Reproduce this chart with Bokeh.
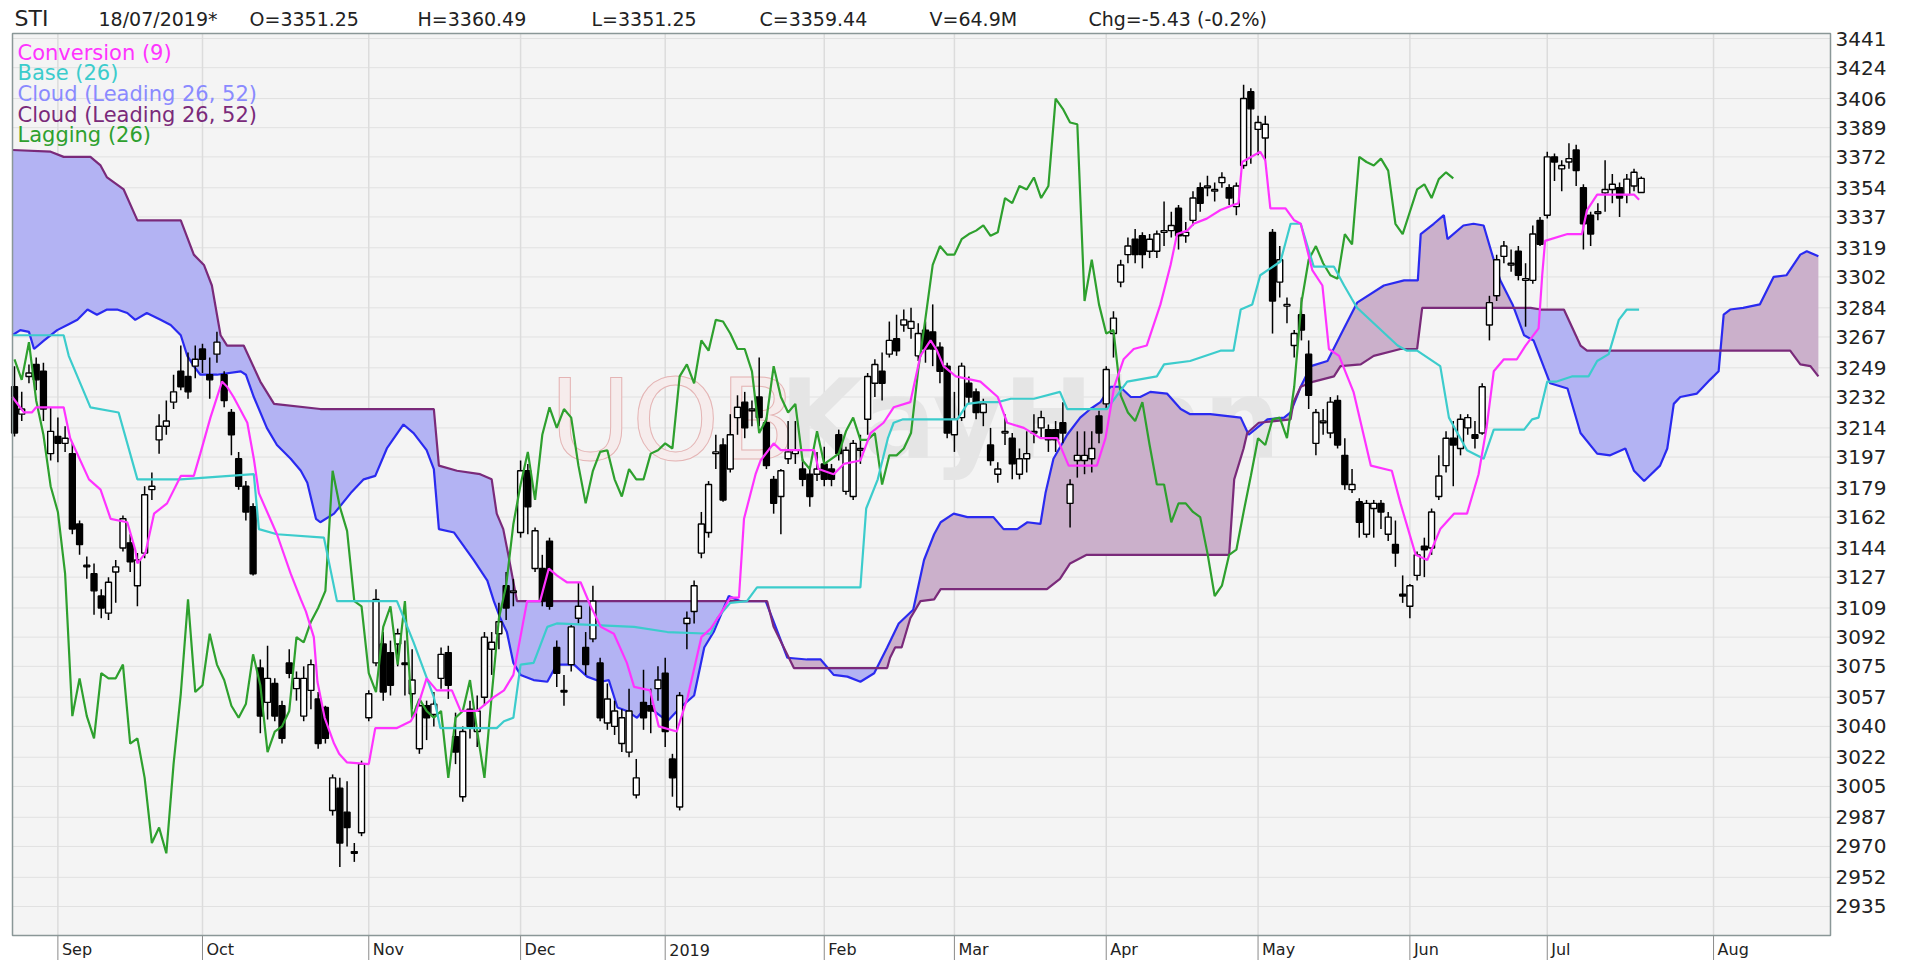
import numpy as np
from bokeh.plotting import figure
from bokeh.models import Range1d, FixedTicker, Label, ColumnDataSource, Text
from bokeh.core.properties import value
from bokeh.embed import file_html
from bokeh.resources import INLINE

# ---------------- data ----------------
# trading-day index 0 = 24 Aug 2018 ... 225 = 18 Jul 2019
month_idx = [6, 26, 49, 70, 90, 112, 130, 151, 172, 193, 212, 235]
month_labels = ["Sep", "Oct", "Nov", "Dec", "2019", "Feb", "Mar", "Apr", "May", "Jun", "Jul", "Aug"]

y_ticks = [2935, 2952, 2970, 2987, 3005, 3022, 3040, 3057, 3075, 3092, 3109, 3127, 3144, 3162,
           3179, 3197, 3214, 3232, 3249, 3267, 3284, 3302, 3319, 3337, 3354, 3372, 3389, 3406,
           3424, 3441]

ohlc = [
    (3238, 3250, 3209, 3211), (3222, 3235, 3218, 3225), (3244, 3251, 3240, 3246), (3251, 3255, 3236, 3242),
    (3247, 3252, 3218, 3225), (3199, 3226, 3195, 3212), (3209, 3220, 3194, 3205), (3205, 3215, 3200, 3208),
    (3199, 3205, 3152, 3155), (3158, 3160, 3140, 3146), (3134, 3139, 3126, 3133), (3129, 3135, 3105, 3119),
    (3116, 3120, 3103, 3109), (3106, 3127, 3102, 3124), (3130, 3137, 3112, 3133), (3144, 3163, 3142, 3161),
    (3147, 3152, 3130, 3136), (3122, 3141, 3110, 3137), (3141, 3180, 3138, 3175), (3178, 3188, 3172, 3180),
    (3207, 3222, 3199, 3215), (3215, 3230, 3210, 3218), (3229, 3245, 3225, 3235), (3247, 3262, 3236, 3238),
    (3244, 3258, 3231, 3235), (3250, 3262, 3243, 3254), (3260, 3263, 3246, 3254), (3245, 3255, 3231, 3242),
    (3257, 3270, 3252, 3264), (3245, 3247, 3226, 3230), (3223, 3225, 3198, 3210), (3196, 3200, 3178, 3180),
    (3180, 3183, 3160, 3165), (3168, 3170, 3128, 3129), (3074, 3079, 3036, 3046), (3054, 3087, 3044, 3068),
    (3065, 3068, 3043, 3046), (3052, 3055, 3030, 3033), (3077, 3085, 3068, 3071), (3062, 3072, 3055, 3068),
    (3046, 3075, 3043, 3068), (3061, 3079, 3050, 3076), (3056, 3060, 3027, 3030), (3051, 3052, 3030, 3033),
    (2991, 3012, 2988, 3010), (3004, 3010, 2958, 2972), (2990, 3008, 2970, 2981), (2967, 2972, 2961, 2966),
    (2978, 3020, 2976, 3018), (3045, 3061, 3043, 3059), (3077, 3120, 3075, 3114), (3088, 3095, 3055, 3060),
    (3083, 3090, 3058, 3064), (3088, 3097, 3075, 3094), (3077, 3090, 3058, 3076), (3059, 3085, 3050, 3067),
    (3027, 3055, 3024, 3052), (3052, 3055, 3032, 3045), (3047, 3060, 3040, 3053), (3068, 3086, 3062, 3082),
    (3083, 3087, 3056, 3064), (3034, 3048, 3018, 3025), (2999, 3040, 2996, 3037), (3050, 3055, 3033, 3040),
    (3037, 3058, 3028, 3049), (3057, 3095, 3052, 3092), (3085, 3095, 3070, 3089), (3094, 3112, 3085, 3101),
    (3122, 3130, 3102, 3109), (3118, 3126, 3110, 3119), (3153, 3195, 3150, 3189), (3189, 3193, 3152, 3168),
    (3132, 3156, 3130, 3154), (3132, 3140, 3110, 3113), (3148, 3150, 3108, 3110), (3086, 3090, 3063, 3071),
    (3061, 3070, 3052, 3060), (3076, 3100, 3072, 3098), (3103, 3124, 3100, 3110), (3086, 3095, 3070, 3076),
    (3091, 3122, 3089, 3113), (3077, 3080, 3043, 3045), (3042, 3065, 3038, 3056), (3040, 3055, 3035, 3049),
    (3030, 3050, 3025, 3045), (3025, 3062, 3022, 3049), (3000, 3021, 2998, 3010), (3054, 3073, 3038, 3045),
    (3052, 3062, 3036, 3049), (3062, 3075, 3055, 3067), (3071, 3080, 3028, 3037), (3021, 3024, 2999, 3010),
    (2993, 3060, 2991, 3058), (3100, 3107, 3085, 3103), (3107, 3125, 3100, 3122), (3141, 3165, 3138, 3158),
    (3153, 3183, 3150, 3181), (3199, 3210, 3190, 3200), (3204, 3208, 3171, 3172), (3190, 3222, 3188, 3210),
    (3220, 3233, 3210, 3226), (3229, 3235, 3208, 3214), (3224, 3230, 3215, 3225), (3232, 3255, 3215, 3220),
    (3217, 3220, 3190, 3192), (3184, 3186, 3164, 3170), (3174, 3190, 3152, 3189), (3196, 3218, 3193, 3200),
    (3199, 3218, 3193, 3201), (3190, 3196, 3180, 3184), (3187, 3190, 3168, 3174), (3187, 3200, 3183, 3190),
    (3193, 3203, 3180, 3184), (3190, 3193, 3180, 3184), (3210, 3213, 3195, 3199), (3177, 3203, 3175, 3201),
    (3174, 3207, 3172, 3205), (3201, 3210, 3193, 3202), (3219, 3246, 3210, 3244), (3240, 3254, 3232, 3251),
    (3247, 3258, 3230, 3240), (3257, 3276, 3255, 3265), (3266, 3280, 3256, 3259), (3274, 3283, 3270, 3277),
    (3272, 3284, 3266, 3276), (3256, 3275, 3253, 3269), (3271, 3276, 3252, 3260), (3270, 3286, 3250, 3260),
    (3261, 3264, 3240, 3247), (3250, 3252, 3208, 3211), (3210, 3235, 3200, 3219), (3220, 3252, 3218, 3250),
    (3240, 3244, 3228, 3232), (3235, 3237, 3219, 3223), (3223, 3231, 3215, 3228), (3204, 3214, 3192, 3195),
    (3187, 3194, 3182, 3190), (3211, 3222, 3204, 3212), (3208, 3211, 3184, 3193), (3187, 3202, 3184, 3196),
    (3196, 3212, 3188, 3199), (3211, 3222, 3205, 3212), (3214, 3224, 3208, 3220), (3213, 3216, 3200, 3207),
    (3213, 3218, 3200, 3207), (3217, 3229, 3205, 3211), (3170, 3184, 3156, 3181), (3195, 3212, 3185, 3198),
    (3195, 3212, 3187, 3198), (3196, 3212, 3188, 3202), (3221, 3224, 3205, 3211), (3228, 3250, 3225, 3248),
    (3269, 3282, 3255, 3278), (3299, 3312, 3296, 3309), (3315, 3325, 3310, 3320), (3324, 3330, 3310, 3315),
    (3326, 3328, 3307, 3315), (3317, 3327, 3313, 3324), (3317, 3329, 3313, 3327), (3328, 3346, 3320, 3329),
    (3329, 3340, 3325, 3332), (3342, 3344, 3318, 3326), (3326, 3334, 3322, 3328), (3335, 3352, 3332, 3348),
    (3354, 3357, 3340, 3345), (3354, 3361, 3349, 3355), (3352, 3357, 3346, 3353), (3357, 3363, 3354, 3360),
    (3354, 3356, 3344, 3348), (3343, 3357, 3338, 3355), (3367, 3414, 3365, 3406), (3410, 3412, 3368, 3400),
    (3388, 3396, 3373, 3392), (3383, 3396, 3370, 3391), (3328, 3330, 3269, 3288), (3299, 3320, 3290, 3312),
    (3285, 3290, 3275, 3286), (3262, 3271, 3255, 3269), (3280, 3290, 3265, 3271), (3257, 3265, 3225, 3233),
    (3205, 3225, 3198, 3223), (3217, 3225, 3210, 3218), (3211, 3232, 3208, 3229), (3230, 3233, 3202, 3204),
    (3198, 3208, 3178, 3181), (3178, 3190, 3176, 3181), (3171, 3173, 3150, 3159), (3152, 3172, 3150, 3170),
    (3167, 3172, 3150, 3170), (3170, 3172, 3155, 3165), (3152, 3165, 3148, 3162), (3146, 3160, 3133, 3141),
    (3117, 3128, 3112, 3116), (3110, 3123, 3103, 3122), (3128, 3142, 3125, 3140), (3145, 3150, 3127, 3143),
    (3144, 3167, 3140, 3165), (3174, 3198, 3172, 3186), (3192, 3212, 3188, 3208), (3208, 3218, 3180, 3204),
    (3202, 3222, 3198, 3219), (3214, 3222, 3210, 3220), (3210, 3218, 3202, 3208), (3211, 3240, 3210, 3238),
    (3274, 3291, 3265, 3287), (3291, 3315, 3288, 3312), (3314, 3323, 3310, 3320), (3309, 3318, 3305, 3310),
    (3317, 3320, 3300, 3303), (3300, 3310, 3273, 3301), (3300, 3332, 3298, 3327), (3335, 3337, 3320, 3321),
    (3338, 3375, 3336, 3372), (3372, 3374, 3358, 3369), (3365, 3370, 3352, 3367), (3369, 3380, 3365, 3371),
    (3376, 3379, 3355, 3364), (3354, 3356, 3318, 3333), (3338, 3340, 3320, 3327), (3339, 3345, 3335, 3340),
    (3351, 3370, 3340, 3353), (3353, 3362, 3345, 3356), (3354, 3357, 3337, 3348), (3350, 3362, 3345, 3359),
    (3355, 3365, 3352, 3363), (3351.25, 3360.49, 3351.25, 3359.44),
]
opens = [r[0] for r in ohlc]
highs = [r[1] for r in ohlc]
lows = [r[2] for r in ohlc]
closes = [r[3] for r in ohlc]
bar_idx = list(range(len(ohlc)))
lag_shift = 26

conv_x = [-0.3, 1.3, 2.4, 3.0, 6.8, 7.7, 10.3, 11.9, 13.3, 15.6, 16.7, 17.0, 18.1, 19.3, 21.1, 23.0, 24.8, 25.7,
          27.1, 28.7, 29.4, 30.3, 32.2, 33.1, 33.8, 36.3, 38.2, 39.6, 40.3, 41.4, 41.9, 42.9, 44.2, 44.9, 46.0,
          49.0, 49.9, 52.9, 54.8, 55.5, 57.0, 58.4, 60.5, 61.7, 64.0, 66.3, 67.7, 69.0, 70.9, 72.7, 73.9, 75.0,
          76.4, 78.3, 79.7, 81.1, 82.9, 84.7, 85.7, 87.9, 89.1, 91.6, 93.1, 95.0, 96.3, 97.7, 99.0, 100.2,
          100.9, 102.5, 103.2, 105.0, 106.0, 110.6, 111.2, 113.3, 114.7, 117.0, 118.4, 120.2, 121.6, 123.9,
          125.3, 126.7, 127.6, 128.5, 130.2, 133.6, 136.0, 137.3, 139.6, 141.9, 144.2, 145.8, 149.7, 150.9,
          152.1, 153.4, 154.8, 156.6, 158.5, 159.9, 160.8, 162.2, 163.1, 164.9, 166.8, 168.6, 169.3, 169.8,
          172.3, 173.0, 173.7, 175.8, 177.0, 177.9, 179.5, 180.9, 181.8, 183.2, 185.2, 187.6, 190.5, 191.7,
          193.8, 195.4, 197.2, 199.1, 200.9, 202.5, 203.6, 204.6, 206.0, 207.8, 209.0, 210.8, 211.3, 211.7,
          214.8, 216.8, 217.5, 218.9, 224.0, 224.7]
conv_y = [3232, 3223, 3223, 3226, 3226, 3208, 3184, 3178, 3161, 3159, 3143, 3135, 3141, 3164, 3170, 3186, 3186,
          3199, 3220, 3241, 3238, 3232, 3217, 3196, 3176, 3152, 3129, 3114, 3107, 3092, 3066, 3045, 3030, 3024,
          3019, 3018, 3039, 3039, 3043, 3048, 3068, 3061, 3061, 3049, 3049, 3057, 3061, 3070, 3113, 3113, 3132,
          3128, 3124, 3124, 3110, 3098, 3094, 3077, 3063, 3061, 3040, 3037, 3057, 3092, 3097, 3106, 3115, 3115,
          3161, 3187, 3195, 3205, 3201, 3201, 3190, 3187, 3193, 3195, 3211, 3217, 3226, 3229, 3256, 3265, 3259,
          3250, 3244, 3241, 3232, 3217, 3214, 3208, 3208, 3192, 3192, 3208, 3238, 3254, 3260, 3262, 3286, 3309,
          3327, 3329, 3333, 3336, 3341, 3344, 3345, 3369, 3375, 3370, 3342, 3342, 3335, 3333, 3306, 3297, 3260,
          3256, 3235, 3192, 3189, 3170, 3140, 3137, 3155, 3164, 3164, 3187, 3214, 3247, 3254, 3254, 3262, 3272,
          3303, 3323, 3327, 3327, 3341, 3350, 3350, 3347]

base_x = [-0.3, 6.8, 7.5, 10.5, 14.4, 17.0, 23.0, 33.1, 33.8, 36.3, 42.8, 44.6, 52.9, 55.2, 58.0, 58.9, 66.7,
          67.7, 69.0, 70.0, 71.8, 73.7, 75.0, 85.7, 90.3, 96.3, 97.2, 99.0, 101.3, 102.7, 117.0, 117.8, 119.4,
          120.8, 121.6, 122.9, 130.4, 131.8, 133.6, 136.0, 137.8, 141.0, 144.6, 145.6, 151.1, 153.9, 158.0,
          159.0, 162.6, 166.8, 168.6, 169.6, 171.2, 172.3, 175.1, 176.5, 177.9, 179.7, 182.5, 183.9, 185.0,
          185.7, 191.3, 192.6, 194.0, 197.2, 198.4, 200.9, 203.2, 204.6, 208.8, 209.9, 210.8, 212.0, 213.3,
          215.4, 217.7, 218.9, 220.5, 221.9, 223.0, 224.7]
base_y = [3268, 3268, 3256, 3226, 3223, 3184, 3184, 3187, 3155, 3152, 3150, 3113, 3113, 3089, 3057, 3039, 3039,
          3043, 3045, 3076, 3077, 3098, 3100, 3098, 3095, 3094, 3103, 3112, 3113, 3121, 3121, 3167, 3184, 3208,
          3217, 3219, 3219, 3228, 3229, 3229, 3231, 3231, 3235, 3225, 3225, 3241, 3244, 3251, 3253, 3259, 3259,
          3283, 3286, 3303, 3311, 3333, 3333, 3308, 3308, 3297, 3289, 3284, 3262, 3259, 3259, 3250, 3220, 3201,
          3196, 3213, 3213, 3219, 3220, 3241, 3241, 3244, 3244, 3253, 3257, 3277, 3283, 3283]

spanA_x = [-0.3, 0.8, 2.0, 2.7, 4.1, 5.9, 7.3, 8.7, 10.1, 11.4, 12.8, 14.2, 15.6, 16.7, 18.3, 20.2, 21.6, 23.0,
           23.9, 24.8, 25.7, 28.0, 31.3, 32.0, 33.1, 34.9, 36.3, 38.2, 39.6, 40.5, 41.7, 42.3, 44.2, 46.5, 48.3,
           49.9, 51.5, 53.8, 55.2, 57.0, 58.0, 58.7, 60.8, 63.5, 65.4, 66.3, 67.2, 68.1, 69.0, 70.0, 71.8, 73.7,
           75.0, 77.4, 79.2, 81.1, 82.2, 83.4, 84.7, 86.1, 87.5, 90.3, 92.1, 94.0, 95.4, 96.7, 98.8, 100.4,
           103.9, 105.0, 106.9, 109.6, 111.5, 113.3, 115.2, 117.0, 118.9, 120.7, 122.3, 124.3, 125.8, 127.2,
           128.1, 129.9, 131.8, 135.4, 136.8, 138.7, 140.1, 141.9, 142.6, 143.7, 145.6, 147.4, 148.8, 150.2,
           151.6, 152.9, 154.4, 155.7, 157.1, 159.4, 161.3, 162.6, 165.4, 169.6, 170.7, 173.3, 175.6, 176.5,
           177.9, 179.3, 181.6, 183.4, 185.7, 189.4, 192.2, 194.1, 194.5, 196.3, 197.7, 198.2, 200.4, 201.8,
           203.2, 204.6, 205.5, 207.2, 208.8, 210.1, 212.4, 214.8, 216.6, 218.9, 220.7, 222.8, 224.0, 225.4,
           227.6, 228.6, 229.5, 230.4, 232.7, 234.5, 235.7, 236.4, 237.3, 239.1, 241.4, 243.3, 245.1, 247.0,
           247.9, 249.5]
spanA_y = [3268, 3271, 3270, 3260, 3265, 3271, 3274, 3277, 3283, 3280, 3283, 3283, 3281, 3277, 3281, 3277, 3274,
           3268, 3256, 3250, 3245, 3245, 3247, 3245, 3232, 3214, 3204, 3196, 3189, 3182, 3161, 3159, 3164, 3176,
           3184, 3186, 3202, 3216, 3211, 3201, 3190, 3155, 3153, 3137, 3125, 3113, 3103, 3095, 3077, 3070, 3067,
           3066, 3076, 3076, 3069, 3066, 3067, 3051, 3049, 3045, 3052, 3043, 3051, 3058, 3086, 3095, 3116, 3113,
           3113, 3101, 3080, 3079, 3079, 3070, 3069, 3066, 3071, 3086, 3100, 3108, 3137, 3152, 3159, 3164, 3162,
           3162, 3155, 3155, 3159, 3158, 3176, 3196, 3210, 3220, 3225, 3229, 3238, 3238, 3232, 3232, 3235, 3234,
           3225, 3222, 3222, 3220, 3210, 3219, 3220, 3223, 3238, 3250, 3253, 3268, 3287, 3297, 3300, 3300, 3327,
           3333, 3338, 3324, 3332, 3333, 3332, 3312, 3300, 3286, 3268, 3265, 3240, 3237, 3211, 3199, 3198, 3202,
           3189, 3183, 3192, 3202, 3228, 3232, 3234, 3242, 3247, 3280, 3283, 3284, 3286, 3302, 3303, 3315, 3317,
           3314]

spanB_x = [-0.3, 5.0, 6.8, 10.5, 11.9, 12.8, 15.1, 17.0, 23.0, 24.8, 26.2, 27.3, 28.5, 29.4, 31.7, 34.0, 35.9,
           42.3, 58.0, 58.7, 61.2, 64.4, 66.0, 66.7, 67.6, 68.3, 69.5, 104.1, 105.0, 107.8, 120.7, 121.1, 121.8,
           122.7, 123.9, 125.3, 127.2, 128.1, 142.8, 144.6, 146.0, 148.3, 168.0, 168.7, 170.0, 170.5, 172.1,
           176.5, 176.9, 177.9, 179.7, 182.5, 183.4, 186.2, 188.0, 191.7, 194.0, 194.7, 209.7, 211.1, 214.3,
           216.6, 217.5, 245.6, 247.0, 248.4, 249.5]
spanB_y = [3376, 3375, 3372, 3372, 3367, 3360, 3353, 3335, 3335, 3315, 3309, 3297, 3268, 3262, 3262, 3241, 3228,
           3225, 3225, 3192, 3189, 3187, 3184, 3164, 3155, 3140, 3113, 3113, 3098, 3074, 3074, 3080, 3086, 3086,
           3103, 3113, 3114, 3120, 3120, 3126, 3135, 3140, 3140, 3184, 3202, 3211, 3217, 3219, 3229, 3238, 3241,
           3244, 3250, 3251, 3256, 3260, 3260, 3284, 3284, 3283, 3283, 3262, 3259, 3259, 3251, 3250, 3244]

header_texts = ["STI", "18/07/2019*", "O=3351.25", "H=3360.49", "L=3351.25", "C=3359.44", "V=64.9M",
                "Chg=-5.43 (-0.2%)"]
legend_texts = ["Conversion (9)", "Base (26)", "Cloud (Leading 26, 52)", "Cloud (Leading 26, 52)", "Lagging (26)"]

# ---------------- styling / geometry ----------------
C_CONV = "#ff33ff"
C_BASE = "#3ccccc"
C_SPANA = "#2a2af0"
C_SPANB = "#7a2a7a"
C_LAG = "#2ea02e"
C_FILL_BLUE = "#b3b3f3"
C_FILL_MAUVE = "#cbb0cb"
FONT = "DejaVu Sans"
LW = 2.2

W, H = 1900, 960
FL, FR = 10, 1832            # frame left/right (page px)
PX_PER_BAR, X0_PAGE = 7.23, 14.0
PX_PER_UNIT, Y_REF_PAGE, Y_REF_VAL = 1.7154, 38.0, 3441.0


def xv(px):
    return (px - X0_PAGE) / PX_PER_BAR


def yv(py):
    return Y_REF_VAL - (py - Y_REF_PAGE) / PX_PER_UNIT


AL, AR, AT, AB = xv(12), xv(1830), yv(33), yv(935)   # plot-area box in data units

p = figure(width=W, height=H, output_backend="svg", toolbar_location=None,
           x_range=Range1d(xv(FL), xv(FR)), y_range=Range1d(yv(H), yv(0)),
           x_axis_location=None, y_axis_location="right",
           min_border_left=FL, min_border_right=W - FR, min_border_top=0, min_border_bottom=0,
           background_fill_color="white", border_fill_color="white", outline_line_color=None)
p.xgrid.visible = False
p.ygrid.visible = False

ya = p.yaxis[0]
ya.ticker = FixedTicker(ticks=y_ticks)
ya.major_tick_out = 0
ya.major_tick_in = 0
ya.minor_tick_out = 0
ya.minor_tick_in = 0
ya.axis_line_color = None
ya.major_label_standoff = 3
ya.major_label_text_font = FONT
ya.major_label_text_font_size = "20px"
ya.major_label_text_color = "#222222"

# plot area background
p.quad(left=[AL], right=[AR], bottom=[AB], top=[AT], fill_color="#f4f4f4", line_color=None)
# grid
p.segment(x0=[AL] * len(y_ticks), x1=[AR] * len(y_ticks), y0=y_ticks, y1=y_ticks,
          line_color="#e1e1e1", line_width=1)
p.segment(x0=month_idx, x1=month_idx, y0=[AB] * len(month_idx), y1=[AT] * len(month_idx),
          line_color="#dcdcdc", line_width=1.5)
# month tick marks below the plot area
p.segment(x0=month_idx, x1=month_idx, y0=[AB] * len(month_idx), y1=[yv(H)] * len(month_idx),
          line_color="#8a8a8a", line_width=1)

# watermark
wm_outline = "text_outline_color" in Text.properties()
if wm_outline:
    p.text(x=[xv(549)], y=[yv(419)], text=["UOB"], text_font=value("DejaVu Sans"), text_font_size="112px",
           text_color="#f6ecec", text_outline_color="#e4b4b4", text_baseline="alphabetic")
else:
    p.text(x=[xv(549)], y=[yv(419)], text=["UOB"], text_font=value("DejaVu Sans"), text_font_size="112px",
           text_color="#efd6d6", text_baseline="alphabetic")
p.text(x=[xv(779)], y=[yv(419)], text=["KayHian"], text_font=value("DejaVu Sans"), text_font_style="bold",
       text_font_size="108px", text_color="#e5e5e5", text_baseline="alphabetic")

# cloud fill
g = np.linspace(min(spanA_x[0], spanB_x[0]), max(spanA_x[-1], spanB_x[-1]), 5000)
A = np.interp(g, spanA_x, spanA_y)
B = np.interp(g, spanB_x, spanB_y)
top = np.maximum(A, B)
p.varea(x=g, y1=A, y2=top, fill_color=C_FILL_BLUE)
p.varea(x=g, y1=B, y2=top, fill_color=C_FILL_MAUVE)
p.line(spanA_x, spanA_y, line_color=C_SPANA, line_width=LW)
p.line(spanB_x, spanB_y, line_color=C_SPANB, line_width=LW)

# candles
src = ColumnDataSource(dict(
    x=bar_idx, o=opens, h=highs, l=lows, c=closes,
    top=[max(o, c) for o, c in zip(opens, closes)],
    bot=[min(o, c) if abs(o - c) > 0.8 else min(o, c) - 0.5 for o, c in zip(opens, closes)],
    fill=["white" if c >= o else "black" for o, c in zip(opens, closes)],
))
p.segment(x0="x", y0="l", x1="x", y1="h", source=src, line_color="black", line_width=1.5)
p.vbar(x="x", width=0.82, top="top", bottom="bot", source=src, fill_color="fill",
       line_color="black", line_width=1.4)

# lagging span (closes shifted back)
p.line([i - lag_shift for i in bar_idx[lag_shift:]], closes[lag_shift:], line_color=C_LAG, line_width=LW)
p.line(base_x, base_y, line_color=C_BASE, line_width=LW)
p.line(conv_x, conv_y, line_color=C_CONV, line_width=LW)

# plot-area border
p.quad(left=[AL], right=[AR], bottom=[AB], top=[AT], fill_color=None, line_color="#8a9797", line_width=1.5)


def sx(px):
    return px - FL


def sy(py):
    return H - py


# legend (text only)
leg_colors = [C_CONV, C_BASE, "#8a8aff", "#7a2a7a", C_LAG]
for k, (t, col) in enumerate(zip(legend_texts, leg_colors)):
    p.add_layout(Label(x=sx(17), y=sy(52 + 20.7 * k), x_units="screen", y_units="screen", text=t,
                       text_font=FONT, text_font_size="21px", text_color=col, text_baseline="middle"))

# month labels
for m, t in zip(month_idx, month_labels):
    p.add_layout(Label(x=m, y=sy(949), x_units="data", y_units="screen", x_offset=4, text=t,
                       text_font=FONT, text_font_size="16px", text_color="#222222",
                       text_baseline="middle"))

# header
header_x = [14, 98, 249, 417, 591, 759, 929, 1088]
for k, (t, hx) in enumerate(zip(header_texts, header_x)):
    p.add_layout(Label(x=sx(hx), y=sy(18), x_units="screen", y_units="screen", text=t,
                       text_font=FONT, text_font_size="22px" if k == 0 else "19px",
                       text_color="#222222", text_baseline="middle"))

open("out.html", "w").write(file_html(p, INLINE))
